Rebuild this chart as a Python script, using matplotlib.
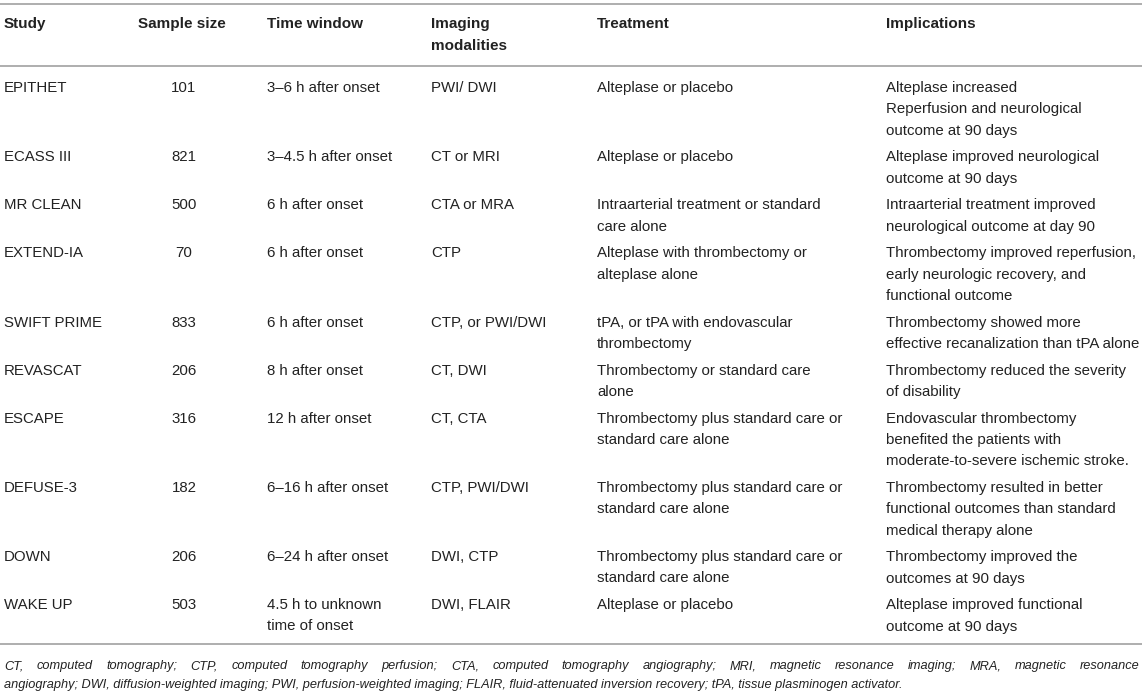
import matplotlib
matplotlib.use("Agg")
import matplotlib.pyplot as plt

# ---- table content ----
headers = ["Study", "Sample size", "Time window", "Imaging\nmodalities", "Treatment", "Implications"]

studies = ["EPITHET", "ECASS III", "MR CLEAN", "EXTEND-IA", "SWIFT PRIME",
           "REVASCAT", "ESCAPE", "DEFUSE-3", "DOWN", "WAKE UP"]

sample_sizes = [101, 821, 500, 70, 833, 206, 316, 182, 206, 503]

time_windows = ["3–6 h after onset", "3–4.5 h after onset", "6 h after onset",
                "6 h after onset", "6 h after onset", "8 h after onset",
                "12 h after onset", "6–16 h after onset", "6–24 h after onset",
                "4.5 h to unknown\ntime of onset"]

imaging = ["PWI/ DWI", "CT or MRI", "CTA or MRA", "CTP", "CTP, or PWI/DWI",
           "CT, DWI", "CT, CTA", "CTP, PWI/DWI", "DWI, CTP", "DWI, FLAIR"]

treatment = ["Alteplase or placebo",
             "Alteplase or placebo",
             "Intraarterial treatment or standard\ncare alone",
             "Alteplase with thrombectomy or\nalteplase alone",
             "tPA, or tPA with endovascular\nthrombectomy",
             "Thrombectomy or standard care\nalone",
             "Thrombectomy plus standard care or\nstandard care alone",
             "Thrombectomy plus standard care or\nstandard care alone",
             "Thrombectomy plus standard care or\nstandard care alone",
             "Alteplase or placebo"]

implications = ["Alteplase increased\nReperfusion and neurological\noutcome at 90 days",
                "Alteplase improved neurological\noutcome at 90 days",
                "Intraarterial treatment improved\nneurological outcome at day 90",
                "Thrombectomy improved reperfusion,\nearly neurologic recovery, and\nfunctional outcome",
                "Thrombectomy showed more\neffective recanalization than tPA alone",
                "Thrombectomy reduced the severity\nof disability",
                "Endovascular thrombectomy\nbenefited the patients with\nmoderate-to-severe ischemic stroke.",
                "Thrombectomy resulted in better\nfunctional outcomes than standard\nmedical therapy alone",
                "Thrombectomy improved the\noutcomes at 90 days",
                "Alteplase improved functional\noutcome at 90 days"]

footnote = [
    "CT, computed tomography; CTP, computed tomography perfusion; CTA, computed tomography angiography; "
    "MRI, magnetic resonance imaging; MRA, magnetic resonance",
    "angiography; DWI, diffusion-weighted imaging; PWI, perfusion-weighted imaging; "
    "FLAIR, fluid-attenuated inversion recovery; tPA, tissue plasminogen activator.",
]

plt.rcParams['font.family'] = ['Liberation Sans', 'DejaVu Sans']

W, H = 1145, 695
fig = plt.figure(figsize=(W / 100, H / 100), dpi=100)
ax = fig.add_axes([0, 0, 1, 1])
ax.set_xlim(0, W)
ax.set_ylim(H, 0)
ax.axis('off')

txt_color = '#222222'
rule_color = '#a8a8a8'
fs = 10.8
col_x = [4, 138, 267, 431, 597, 886]
size_cx = 184
line_h = 21.3
row_gap = 5.4
base_off = 5.0


def put(x, y, s, lh=line_h, size=fs, **kw):
    for i, part in enumerate(s.split('\n')):
        ax.text(x, y + i * lh + base_off, part, va='baseline', fontsize=size,
                color=txt_color, **kw)


# rules
for yy in (4, 66, 644):
    ax.plot([0, W - 3], [yy, yy], color=rule_color, lw=1.3, solid_capstyle='butt')

# header
for x, h in zip(col_x, headers):
    put(x, 23, h, lh=22, size=11.0, fontweight='bold')

# body rows
y = 87
for i in range(len(studies)):
    cells = [studies[i], time_windows[i], imaging[i], treatment[i], implications[i]]
    xs = [col_x[0], col_x[2], col_x[3], col_x[4], col_x[5]]
    for x, c in zip(xs, cells):
        put(x, y, c)
    put(size_cx, y, str(sample_sizes[i]), ha='center')
    nlines = max(c.count('\n') + 1 for c in cells)
    y += nlines * line_h + row_gap

# footnote, first line justified
fn_fs = 9.2
fn_y = [665, 684]
fig.canvas.draw()
r = fig.canvas.get_renderer()
words = footnote[0].split(' ')
arts = [ax.text(0, fn_y[0] + 4.3, w, va='baseline', fontsize=fn_fs, style='italic',
                color=txt_color) for w in words]
widths = [a.get_window_extent(r).width for a in arts]
gap = (W - 5 - col_x[0] - sum(widths)) / (len(words) - 1)
x = col_x[0]
for a, w in zip(arts, widths):
    a.set_x(x)
    x += w + gap
ax.text(col_x[0], fn_y[1] + 4.3, footnote[1], va='baseline', fontsize=fn_fs,
        style='italic', color=txt_color)

fig.savefig('out.png', dpi=100)
